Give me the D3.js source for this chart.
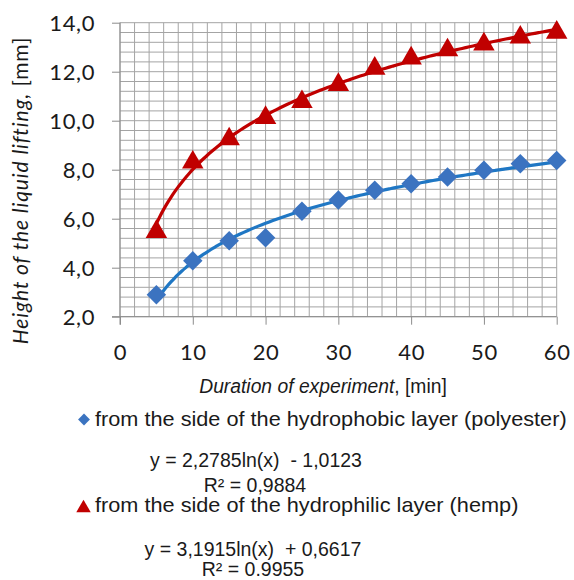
<!DOCTYPE html>
<html>
<head>
<meta charset="utf-8">
<script src="https://cdn.jsdelivr.net/npm/d3@7"></script>
<style>
  body { margin: 0; background: #fff; }
  svg { display: block; }
</style>
</head>
<body>
<svg id="chart"></svg>
<script>
// minutes
const durations = [5, 10, 15, 20, 25, 30, 35, 40, 45, 50, 55, 60];
// polyester side (hydrophobic)
const polyester = [2.9, 4.28, 5.1, 5.22, 6.3, 6.76, 7.16, 7.43, 7.7, 7.98, 8.24, 8.38];
// hemp side (hydrophilic)
const hemp = [5.47, 8.3, 9.25, 10.12, 10.77, 11.47, 12.13, 12.55, 12.88, 13.12, 13.4, 13.6];
// log trend coefficients as printed on the chart: y = a ln(x) + b
const fitPolyester = [2.2785, -1.0123];
const fitHemp = [3.1915, 0.6617];
const xTicks = [0, 10, 20, 30, 40, 50, 60];
const yTicks = [2, 4, 6, 8, 10, 12, 14];

const width = 574, height = 580;
const svg = d3.select('#chart').attr('width', width).attr('height', height);

const x = d3.scaleLinear().domain([0, 60]).range([120, 556.7]);
const y = d3.scaleLinear().domain([2, 14]).range([316.7, 22.7]);

const fmt = v => d3.format('.1f')(v).replace('.', ',');
const gridColor = '#a4a4a4';

// minor grid
const grid = svg.append('g');
grid.selectAll('.vminor')
  .data(d3.range(0, 60.01, 2))
  .join('line')
  .attr('x1', d => x(d)).attr('x2', d => x(d))
  .attr('y1', y(2)).attr('y2', y(14))
  .attr('stroke', gridColor).attr('stroke-width', 1);
grid.selectAll('.hminor')
  .data(d3.range(0, 31).map(i => 2 + i * 0.4))
  .join('line')
  .attr('x1', x(0)).attr('x2', x(60))
  .attr('y1', d => y(d)).attr('y2', d => y(d))
  .attr('stroke', gridColor).attr('stroke-width', 1);

// axes with crossing ticks
const xAxis = svg.append('g').attr('transform', `translate(0,${y(2)})`)
  .call(d3.axisBottom(x).tickValues(xTicks).tickSize(8).tickFormat(d => d));
const yAxis = svg.append('g').attr('transform', `translate(${x(0)},0)`)
  .call(d3.axisLeft(y).tickValues(yTicks).tickSize(8).tickFormat(fmt));
[xAxis, yAxis].forEach(a => {
  a.select('.domain').remove();
  a.selectAll('line').attr('stroke', '#8c8c8c');
  a.selectAll('text').attr('fill', '#1a1a1a')
    .style('font-family', 'Lato, "Open Sans", sans-serif')
    .style('font-size', '22px').style('letter-spacing', '0.6px');
});
xAxis.selectAll('text').attr('y', 0).attr('dy', 0).attr('transform', 'translate(0,43.3)');
yAxis.selectAll('text').attr('x', -25).attr('dy', '0.36em');
svg.append('line').attr('x1', x(0) - 8).attr('x2', x(60)).attr('y1', y(2)).attr('y2', y(2)).attr('stroke', '#8c8c8c');
svg.append('line').attr('x1', x(0)).attr('x2', x(0)).attr('y1', y(14)).attr('y2', y(2) + 8).attr('stroke', '#8c8c8c');

// trend lines
const trend = (fit) => d3.range(5, 60.01, 0.5).map(t => [t, fit[0] * Math.log(t) + fit[1]]);
const line = d3.line().x(d => x(d[0])).y(d => y(d[1])).curve(d3.curveMonotoneX);
svg.append('path').attr('d', line(trend(fitPolyester)))
  .attr('fill', 'none').attr('stroke', '#1f77c4').attr('stroke-width', 3.2);
svg.append('path').attr('d', line(trend(fitHemp)))
  .attr('fill', 'none').attr('stroke', '#c00000').attr('stroke-width', 3.2);

// markers
const diamond = d3.symbol().type(d3.symbolSquare).size(190);
svg.append('g').selectAll('path')
  .data(durations.map((d, i) => [d, polyester[i]]))
  .join('path')
  .attr('d', diamond)
  .attr('transform', d => `translate(${x(d[0])},${y(d[1])}) rotate(45)`)
  .attr('fill', '#3b73c0');
const tri = d3.symbol().type(d3.symbolTriangle).size(200);
svg.append('g').selectAll('path')
  .data(durations.map((d, i) => [d, hemp[i]]))
  .join('path')
  .attr('d', tri)
  .attr('transform', d => `translate(${x(d[0])},${y(d[1])})`)
  .attr('fill', '#c00000');

// axis titles
const yTitle = svg.append('text')
  .attr('transform', 'translate(28,190.5) rotate(-90)')
  .attr('text-anchor', 'middle')
  .style('font-family', 'Lato, sans-serif').style('font-size', '21px')
  .style('letter-spacing', '0.9px').attr('fill', '#1a1a1a');
yTitle.append('tspan').style('font-style', 'italic').text('Height of the liquid lifting,');
yTitle.append('tspan').text(' [mm]');

const xTitle = svg.append('text')
  .attr('x', 323).attr('y', 393)
  .attr('text-anchor', 'middle')
  .style('font-family', '"Liberation Sans", Arial, sans-serif').style('font-size', '19.3px').attr('fill', '#1a1a1a');
xTitle.append('tspan').style('font-style', 'italic').text('Duration of experiment');
xTitle.append('tspan').text(', [min]');

// legend and equations
const legendFont = '"Liberation Sans", Arial, sans-serif';
const legend = svg.append('g').style('font-family', legendFont).attr('fill', '#1a1a1a');
legend.append('path').attr('d', d3.symbol().type(d3.symbolSquare).size(70))
  .attr('transform', 'translate(84,419.5) rotate(45)').attr('fill', '#3b73c0');
legend.append('text').attr('transform', 'translate(95,426) scale(1.086,1)')
  .style('font-size', '20px').text('from the side of the hydrophobic layer (polyester)');
legend.append('path').attr('d', d3.symbol().type(d3.symbolTriangle).size(90))
  .attr('transform', 'translate(83.5,508)').attr('fill', '#c00000');
legend.append('text').attr('transform', 'translate(95,512) scale(1.086,1)')
  .style('font-size', '20px').text('from the side of the hydrophilic layer (hemp)');

const eq = svg.append('g').style('font-family', legendFont).style('font-size', '19.5px')
  .attr('fill', '#1a1a1a').attr('text-anchor', 'middle');
eq.append('text').attr('x', 256).attr('y', 467).text('y = 2,2785ln(x)\u00A0 - 1,0123');
eq.append('text').attr('x', 255).attr('y', 491.5).text('R² = 0,9884');
eq.append('text').attr('x', 253).attr('y', 556).text('y = 3,1915ln(x)\u00A0 + 0,6617');
eq.append('text').attr('x', 253).attr('y', 576).text('R² = 0.9955');
</script>
</body>
</html>
